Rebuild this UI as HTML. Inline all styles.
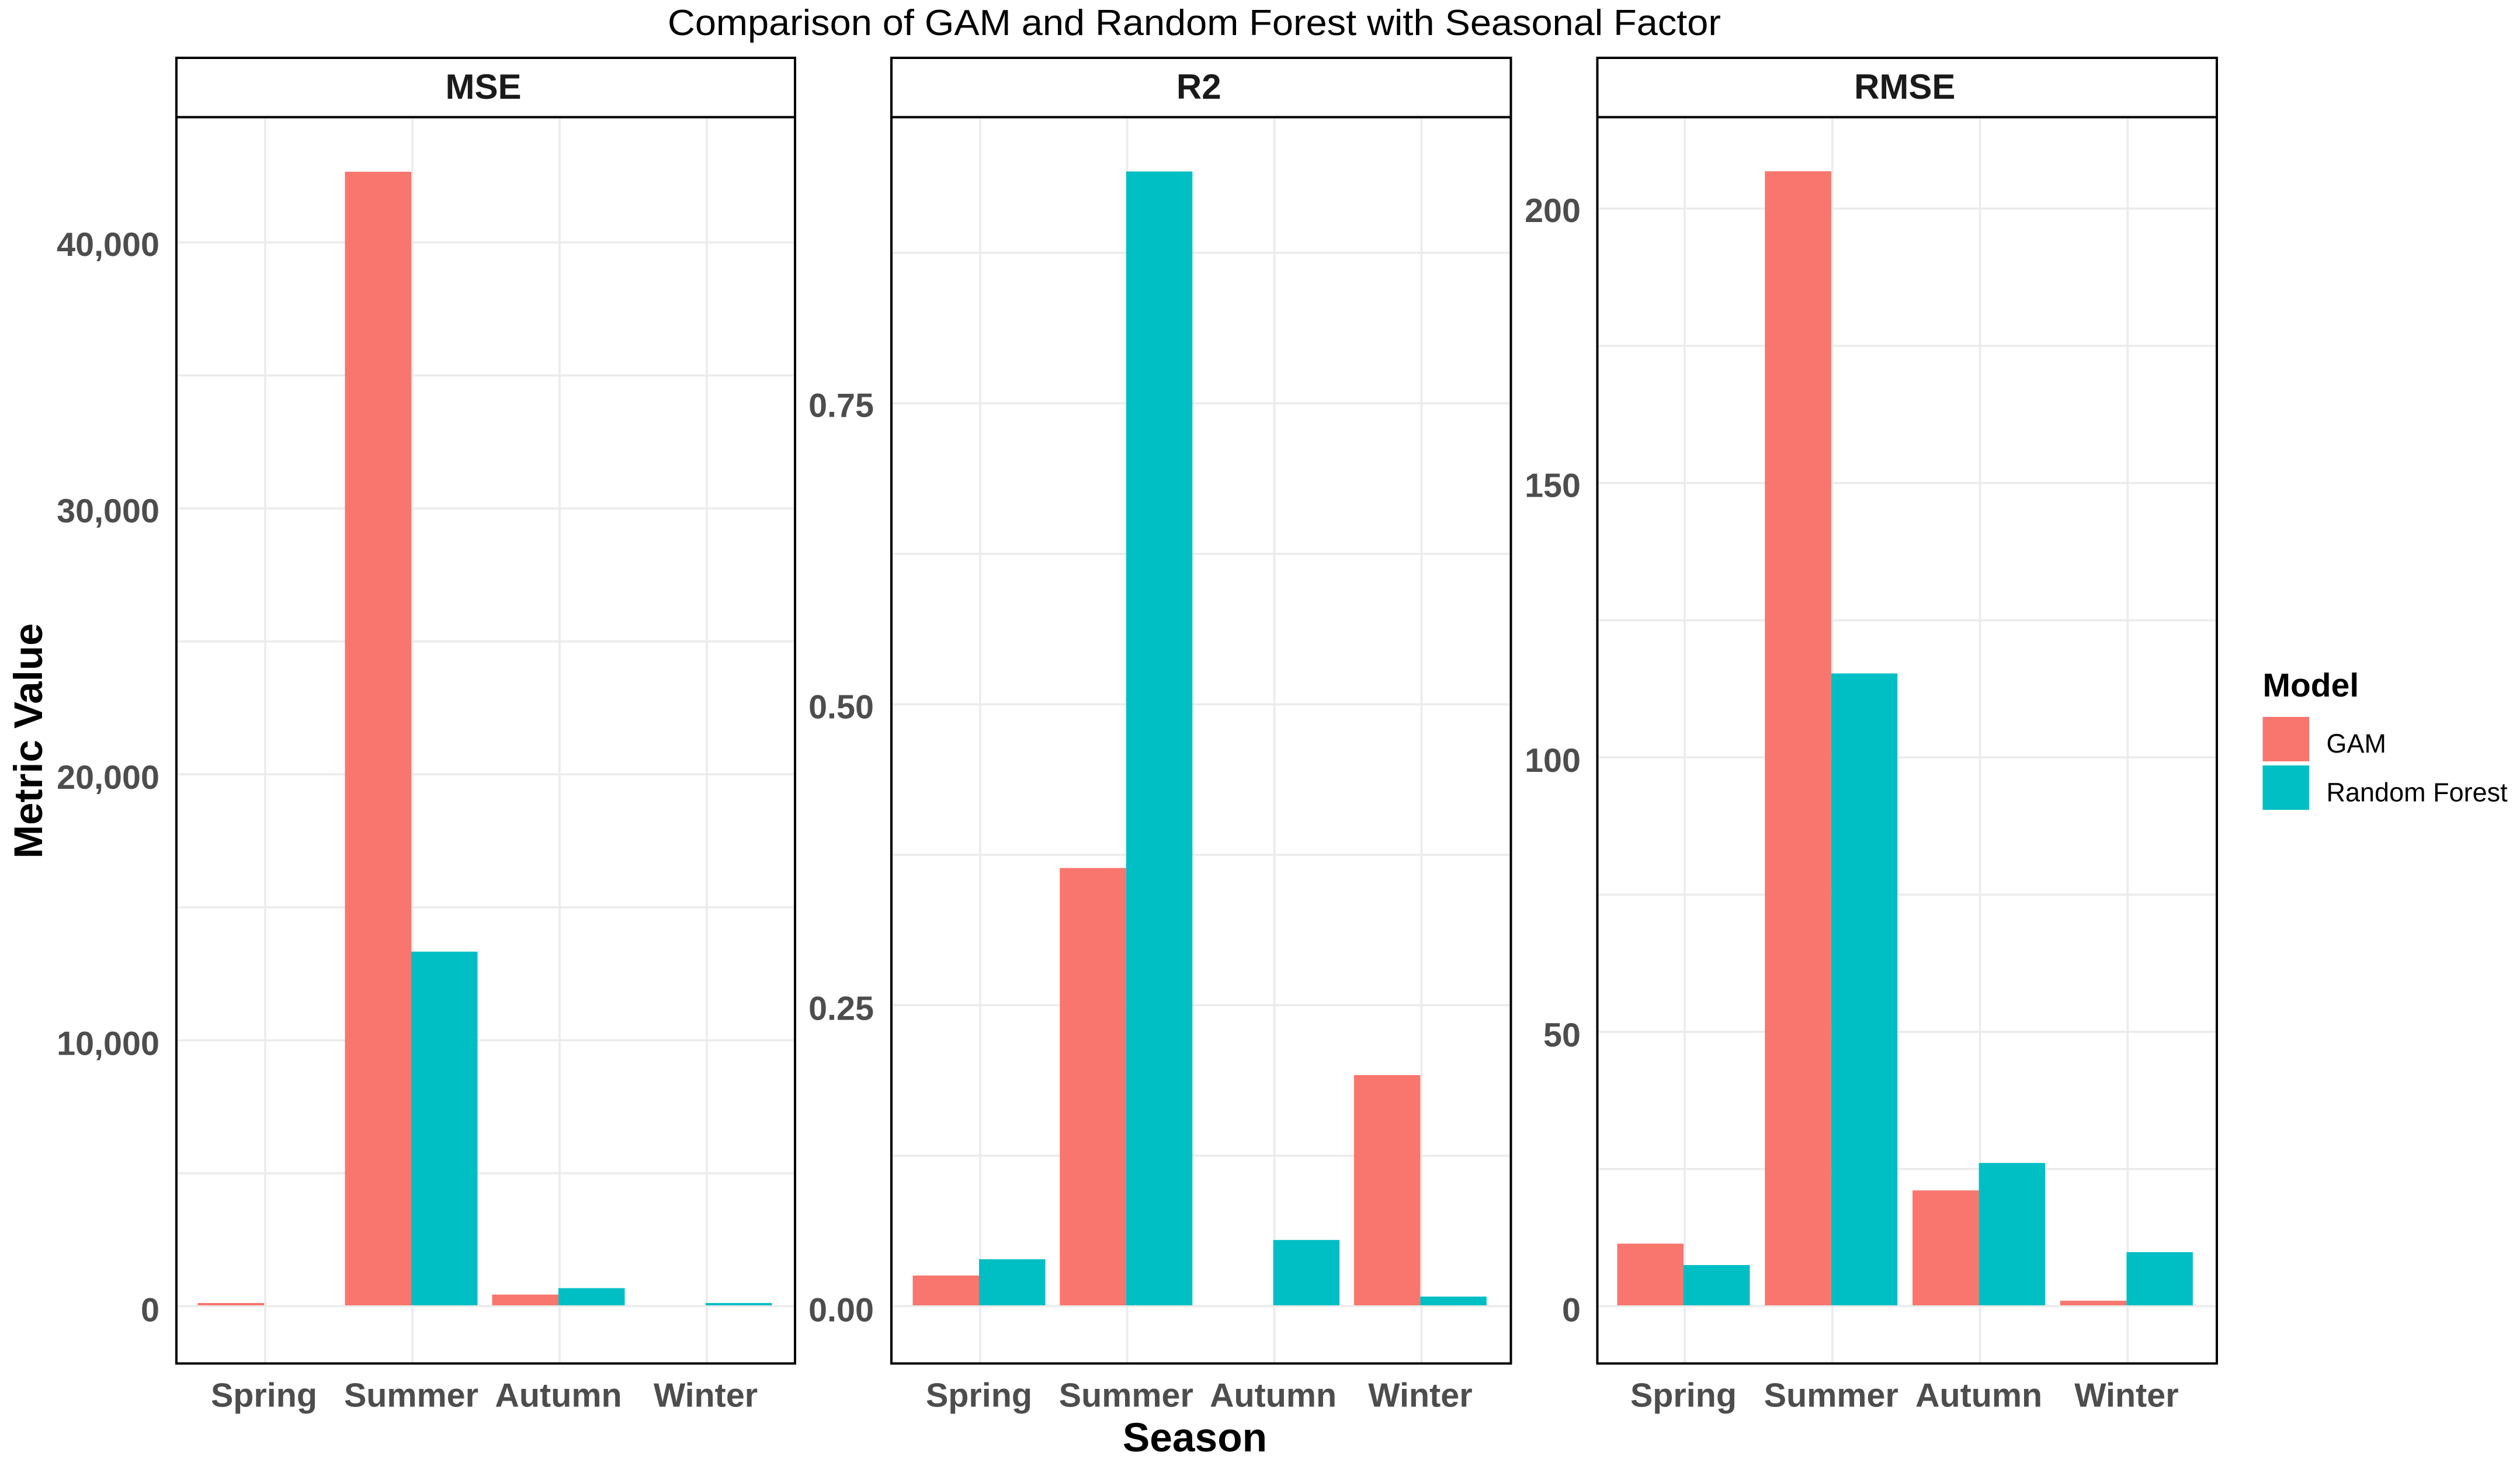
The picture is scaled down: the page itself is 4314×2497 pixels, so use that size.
<!DOCTYPE html>
<html lang="en">
<head>
<meta charset="utf-8">
<title>Comparison of GAM and Random Forest with Seasonal Factor</title>
<style>
  html, body { margin: 0; padding: 0; background: #ffffff; }
  svg { display: block; font-family: "Liberation Sans", Arial, sans-serif; }
  .ytick, .xtick { font-weight: 700; fill: #4d4d4d; font-size: 57.5px; }
  .strip { font-weight: 700; fill: #1a1a1a; font-size: 60px; text-anchor: middle; }
</style>
</head>
<body>
<svg id="chart" width="4314" height="2497" viewBox="0 0 4314 2497" xmlns="http://www.w3.org/2000/svg">
  <rect x="0" y="0" width="4314" height="2497" fill="#ffffff"></rect>
  <text x="2044.5" y="60" font-size="62" text-anchor="middle" fill="#000000" textLength="1803" lengthAdjust="spacingAndGlyphs">Comparison of GAM and Random Forest with Seasonal Factor</text>
  <g id="panels"></g>
  <text x="2045.5" y="2484" font-size="69.5" font-weight="700" text-anchor="middle" fill="#000000">Season</text>
  <text transform="translate(72,1268) rotate(-90)" font-size="69" font-weight="700" text-anchor="middle" fill="#000000">Metric Value</text>
  <g>
    <text x="3873.5" y="1192" font-size="57" font-weight="700" fill="#000000">Model</text>
    <rect x="3873.5" y="1227" width="79.5" height="76" fill="#F8766D"></rect>
    <text x="3982.5" y="1288" font-size="45" fill="#000000">GAM</text>
    <rect x="3873.5" y="1310" width="79.5" height="76" fill="#00BFC4"></rect>
    <text x="3982.5" y="1371.5" font-size="45" fill="#000000">Random Forest</text>
  </g>
</svg>
<script>
// ---- chart data ----
const seasons = ['Spring', 'Summer', 'Autumn', 'Winter'];

const mseGam = [120, 42660, 437, 1];
const mseForest = [30, 13333, 679, 120];
const mseTickValues = [0, 10000, 20000, 30000, 40000];
const mseTickLabels = ['0', '10,000', '20,000', '30,000', '40,000'];
const mseMinorTicks = [5000, 15000, 25000, 35000];

const r2Gam = [0.0255, 0.364, 0, 0.192];
const r2Forest = [0.039, 0.9426, 0.055, 0.008];
const r2TickValues = [0, 0.25, 0.5, 0.75];
const r2TickLabels = ['0.00', '0.25', '0.50', '0.75'];
const r2MinorTicks = [0.125, 0.375, 0.625, 0.875];

const rmseGam = [11.4, 206.8, 21.1, 1.0];
const rmseForest = [7.5, 115.3, 26.1, 9.85];
const rmseTickValues = [0, 50, 100, 150, 200];
const rmseTickLabels = ['0', '50', '100', '150', '200'];
const rmseMinorTicks = [25, 75, 125, 175];

// ---- layout ----
const NS = 'http://www.w3.org/2000/svg';
const root = document.getElementById('panels');
const stripTop = 99;
const stripBottom = 200.5;
const panelBottom = 2333.5;
const zeroY = 2235.5;
const barBaseY = 2234;
const barWidth = 113.5;
const GAM_COLOR = '#F8766D';
const FOREST_COLOR = '#00BFC4';

const panels = [
  { key: 'mse', title: 'MSE', left: 302, right: 1361, splitStart: 452, splitStep: 252, refValue: 40000, refY: 415, labelRight: 273,
    gam: mseGam, forest: mseForest, ticks: mseTickValues, labels: mseTickLabels, minor: mseMinorTicks },
  { key: 'r2', title: 'R2', left: 1526, right: 2586.5, splitStart: 1676, splitStep: 251.8, refValue: 0.75, refY: 690.3, labelRight: 1496,
    gam: r2Gam, forest: r2Forest, ticks: r2TickValues, labels: r2TickLabels, minor: r2MinorTicks },
  { key: 'rmse', title: 'RMSE', left: 2734.5, right: 3795, splitStart: 2882, splitStep: 252.8, refValue: 200, refY: 357, labelRight: 2706,
    gam: rmseGam, forest: rmseForest, ticks: rmseTickValues, labels: rmseTickLabels, minor: rmseMinorTicks }
];

function yScale(panel, value) {
  return zeroY - value * (zeroY - panel.refY) / panel.refValue;
}
function xSplit(panel, index) {
  return panel.splitStart + panel.splitStep * index;
}
function labelBaseline(panel, value) {
  return yScale(panel, value) + 23 + 3 * (1 - value / panel.refValue);
}
function addEl(parent, tag, attrs) {
  const el = document.createElementNS(NS, tag);
  for (const k in attrs) el.setAttribute(k, attrs[k]);
  parent.appendChild(el);
  return el;
}

panels.forEach(function (panel) {
  const g = addEl(root, 'g', {});
  
  

  // horizontal gridlines
  panel.minor.concat(panel.ticks).forEach(function (v) {
    const line = addEl(g, 'line', { x1: panel.left, x2: panel.right, y1: yScale(panel, v), y2: yScale(panel, v), stroke: '#ebebeb', 'stroke-width': 3.5 });
    
    
  });

  // vertical gridlines
  seasons.forEach(function (s, i) {
    const gx = xSplit(panel, i) + 2;
    const line = addEl(g, 'line', { x1: gx, x2: gx, y1: stripBottom, y2: panelBottom, stroke: '#ebebeb', 'stroke-width': 3.5 });
    
    
  });

  // bars
  seasons.forEach(function (s, i) {
    const split = xSplit(panel, i);
    const gamTop = yScale(panel, panel.gam[i]);
    const gamBar = addEl(g, 'rect', { x: split - barWidth, y: Math.min(gamTop, barBaseY), width: barWidth, height: Math.max(0, barBaseY - gamTop), fill: GAM_COLOR });
    
    

    const forestTop = yScale(panel, panel.forest[i]);
    const forestBar = addEl(g, 'rect', { x: split, y: Math.min(forestTop, barBaseY), width: barWidth, height: Math.max(0, barBaseY - forestTop), fill: FOREST_COLOR });
    
    
  });

  // y tick labels
  panel.ticks.forEach(function (v, i) {
    const t = addEl(g, 'text', { x: panel.labelRight, y: labelBaseline(panel, v), 'text-anchor': 'end', class: 'ytick' });
    t.textContent = panel.labels[i];
    
    
  });

  // x tick labels
  seasons.forEach(function (s, i) {
    const t = addEl(g, 'text', { x: xSplit(panel, i), y: 2407.5, 'text-anchor': 'middle', class: 'xtick' });
    t.textContent = s;
    
    
  });

  // panel + strip frame
  const frame = addEl(g, 'rect', { x: panel.left, y: stripBottom, width: panel.right - panel.left, height: panelBottom - stripBottom, fill: 'none', stroke: '#000000', 'stroke-width': 4 });
  
  

  const strip = addEl(g, 'rect', { x: panel.left, y: stripTop, width: panel.right - panel.left, height: stripBottom - stripTop, fill: '#ffffff', stroke: '#000000', 'stroke-width': 4 });
  
  

  const stripLabel = addEl(g, 'text', { x: (panel.left + panel.right) / 2 - 4, y: 169, class: 'strip' });
  stripLabel.textContent = panel.title;
  
  

  // slightly heavier bottom edge
  const bottomEdge = addEl(g, 'line', { x1: panel.left - 2, x2: panel.right + 2, y1: panelBottom + 0.5, y2: panelBottom + 0.5, stroke: '#000000', 'stroke-width': 3 });
  
  
});
</script>
</body>
</html>
